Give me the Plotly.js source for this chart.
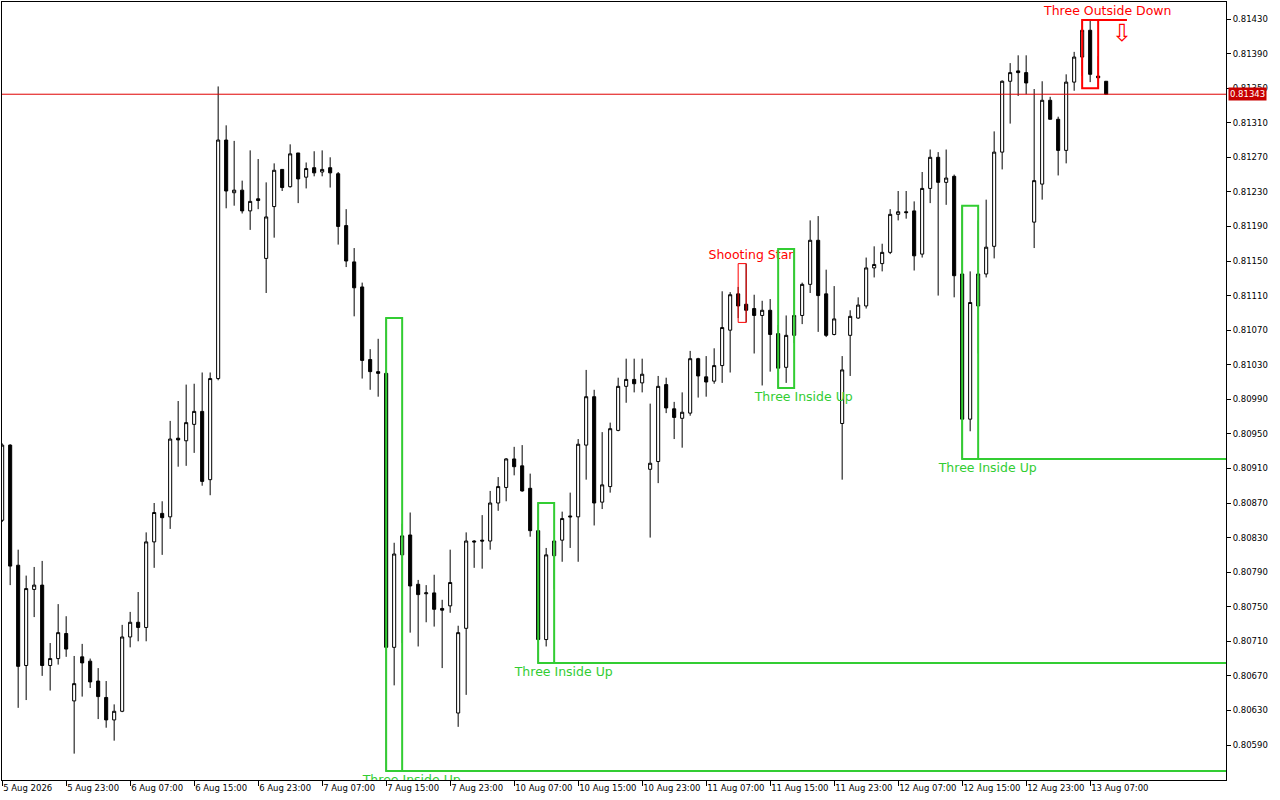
<!DOCTYPE html>
<html><head><meta charset="utf-8">
<script src="https://cdn.plot.ly/plotly-3.0.1.min.js"></script>
<style>html,body{margin:0;padding:0;background:#fff}#chart{width:1280px;height:800px}</style>
</head><body><div id="chart"></div>
<script>
// Hourly candles, 5 Aug 15:00 .. 13 Aug 10:00 (weekend skipped)
const openP = [
0.80850,0.80937,0.80798,0.80682,0.80770,0.80775,0.80682,0.80690,0.80719,0.80641,
0.80692,0.80687,0.80664,0.80645,0.80619,0.80629,0.80715,0.80732,0.80726,0.80825,
0.80858,0.80854,0.80945,0.80942,0.80961,0.80976,0.80897,0.81014,0.81290,0.81229,
0.81232,0.81208,0.81222,0.81153,0.81213,0.81256,0.81236,0.81275,0.81247,0.81258,
0.81253,0.81258,0.81251,0.81191,0.81149,0.81120,0.81036,0.81022,0.81020,0.80703,
0.80810,0.80833,0.80776,0.80765,0.80766,0.80748,0.80751,0.80627,0.80725,0.80826,
0.80827,0.80826,0.80870,0.80888,0.80921,0.80913,0.80887,0.80838,0.80712,0.80809,
0.80827,0.80855,0.80854,0.80937,0.80993,0.80871,0.80889,0.80954,0.81005,0.81013,
0.81009,0.80909,0.80918,0.81007,0.80979,0.80968,0.80974,0.81037,0.81016,0.81011,
0.81029,0.81070,0.81112,0.81100,0.81095,0.81087,0.81093,0.81066,0.81027,0.81064,
0.81087,0.81123,0.81174,0.81112,0.81065,0.80962,0.81064,0.81084,0.81098,0.81142,
0.81147,0.81160,0.81204,0.81207,0.81208,0.81158,0.81234,0.81270,0.81241,0.81248,
0.81135,0.80967,0.81098,0.81135,0.81167,0.81276,0.81358,0.81370,0.81368,0.81195,
0.81239,0.81336,0.81314,0.81278,0.81357,0.81386,0.81417,0.81364,0.81358];
const highP = [
0.80939,0.80938,0.80816,0.80786,0.80796,0.80803,0.80708,0.80753,0.80739,0.80693,
0.80707,0.80690,0.80679,0.80664,0.80637,0.80729,0.80744,0.80767,0.80836,0.80870,
0.80872,0.80965,0.80988,0.81007,0.81008,0.81021,0.81021,0.81352,0.81307,0.81289,
0.81243,0.81278,0.81268,0.81241,0.81263,0.81256,0.81285,0.81275,0.81264,0.81277,
0.81278,0.81270,0.81253,0.81210,0.81165,0.81125,0.81048,0.81060,0.81084,0.80824,
0.80846,0.80859,0.80781,0.80775,0.80787,0.80758,0.80816,0.80728,0.80836,0.80827,
0.80856,0.80884,0.80900,0.80922,0.80935,0.80937,0.80904,0.80870,0.80818,0.80827,
0.80860,0.80882,0.80944,0.81024,0.81001,0.80952,0.80963,0.81015,0.81037,0.81037,
0.81037,0.80985,0.81017,0.81015,0.80987,0.80998,0.81046,0.81038,0.81040,0.81049,
0.81115,0.81114,0.81120,0.81147,0.81111,0.81104,0.81106,0.81076,0.81087,0.81164,
0.81125,0.81197,0.81202,0.81140,0.81121,0.81040,0.81093,0.81108,0.81154,0.81167,
0.81170,0.81210,0.81231,0.81231,0.81219,0.81253,0.81279,0.81276,0.81279,0.81250,
0.81214,0.81138,0.81197,0.81221,0.81300,0.81359,0.81379,0.81388,0.81388,0.81349,
0.81358,0.81340,0.81317,0.81366,0.81392,0.81429,0.81429,0.81387,0.81358];
const lowP = [
0.80848,0.80775,0.80633,0.80642,0.80738,0.80670,0.80653,0.80683,0.80692,0.80580,
0.80646,0.80656,0.80620,0.80610,0.80595,0.80628,0.80703,0.80710,0.80710,0.80795,
0.80810,0.80840,0.80912,0.80913,0.80928,0.80890,0.80879,0.81012,0.81211,0.81214,
0.81205,0.81186,0.81210,0.81113,0.81177,0.81231,0.81235,0.81217,0.81234,0.81248,
0.81248,0.81235,0.81169,0.81143,0.81086,0.81014,0.81001,0.80993,0.80560,0.80659,
0.80708,0.80720,0.80704,0.80732,0.80727,0.80679,0.80743,0.80611,0.80648,0.80795,
0.80794,0.80816,0.80861,0.80872,0.80902,0.80883,0.80831,0.80685,0.80704,0.80770,
0.80802,0.80818,0.80802,0.80897,0.80844,0.80863,0.80882,0.80953,0.80986,0.80998,
0.80998,0.80830,0.80893,0.80974,0.80944,0.80934,0.80971,0.80992,0.80993,0.81008,
0.81009,0.81021,0.81084,0.81079,0.81043,0.81006,0.81022,0.81003,0.81009,0.81055,
0.81077,0.81113,0.81068,0.81062,0.81064,0.80897,0.81017,0.81083,0.81095,0.81131,
0.81138,0.81158,0.81197,0.81199,0.81139,0.81154,0.81217,0.81110,0.81215,0.81108,
0.80921,0.80953,0.81043,0.81131,0.81153,0.81256,0.81309,0.81341,0.81343,0.81165,
0.81221,0.81314,0.81249,0.81263,0.81347,0.81364,0.81357,0.81350,0.81343];
const closeP = [
0.80937,0.80797,0.80681,0.80771,0.80775,0.80682,0.80690,0.80720,0.80701,0.80661,
0.80685,0.80663,0.80646,0.80619,0.80629,0.80715,0.80732,0.80726,0.80825,0.80859,
0.80853,0.80944,0.80943,0.80963,0.80976,0.80895,0.81014,0.81290,0.81231,0.81232,
0.81208,0.81219,0.81220,0.81201,0.81255,0.81235,0.81274,0.81245,0.81257,0.81252,
0.81256,0.81252,0.81190,0.81150,0.81119,0.81035,0.81022,0.81020,0.80703,0.80811,
0.80832,0.80774,0.80764,0.80766,0.80747,0.80746,0.80778,0.80720,0.80826,0.80825,
0.80826,0.80870,0.80889,0.80921,0.80912,0.80884,0.80838,0.80712,0.80810,0.80826,
0.80852,0.80854,0.80938,0.80993,0.80870,0.80891,0.80956,0.81005,0.81013,0.81008,
0.81019,0.80916,0.81005,0.80980,0.80969,0.80975,0.81037,0.81017,0.81010,0.81029,
0.81073,0.81111,0.81098,0.81093,0.81087,0.81093,0.81065,0.81026,0.81064,0.81087,
0.81123,0.81174,0.81110,0.81064,0.81083,0.81024,0.81086,0.81099,0.81142,0.81146,
0.81160,0.81204,0.81207,0.81206,0.81156,0.81234,0.81270,0.81241,0.81246,0.81133,
0.80967,0.81102,0.81135,0.81166,0.81276,0.81358,0.81368,0.81368,0.81356,0.81243,
0.81336,0.81314,0.81278,0.81357,0.81386,0.81417,0.81366,0.81362,0.81343];

// time-axis labels, one every 8 bars
const tickLabels = ['5 Aug 2026','5 Aug 23:00','6 Aug 07:00','6 Aug 15:00','6 Aug 23:00','7 Aug 07:00',
  '7 Aug 15:00','7 Aug 23:00','10 Aug 07:00','10 Aug 15:00','10 Aug 23:00','11 Aug 07:00',
  '11 Aug 15:00','11 Aug 23:00','12 Aug 07:00','12 Aug 15:00','12 Aug 23:00','13 Aug 07:00'];
// price-axis labels
const priceTicks = [0.80590,0.80630,0.80670,0.80710,0.80750,0.80790,0.80830,0.80870,0.80910,0.80950,
  0.80990,0.81030,0.81070,0.81110,0.81150,0.81190,0.81230,0.81270,0.81310,0.81350,0.81390,0.81430];

// detected candlestick patterns
const patName  = ['Three Inside Up','Three Inside Up','Shooting Star','Three Inside Up','Three Inside Up','Three Outside Down'];
const patFirst = [48, 67, 92, 97, 120, 135];
const patLast  = [50, 69, 93, 99, 122, 137];
const patBull  = [true, true, false, true, true, false];
const patLevel = [true, true, false, false, true, true];

const N = closeP.length;
const idx = Array.from({length: N}, (_, i) => i);
const tickIdx = tickLabels.map((_, k) => k * 8);
const xRange = [-0.02, 152.98];
const GREEN = '#32cd32', RED = '#ff0000';

const traces = [{
  type: 'candlestick', x: idx, open: openP, high: highP, low: lowP, close: closeP,
  increasing: {line: {color: '#000', width: 1}, fillcolor: '#ffffff'},
  decreasing: {line: {color: '#000', width: 1}, fillcolor: '#000000'},
  whiskerwidth: 0, hoverinfo: 'skip', showlegend: false
}];

const shapes = [];
const lastPrice = closeP[N - 1];
shapes.push({type: 'line', xref: 'paper', x0: 0, x1: 1, yref: 'y', y0: lastPrice, y1: lastPrice,
  line: {color: '#e00000', width: 1}, layer: 'above'});

for (let p = 0; p < patName.length; p++) {
  const a = patFirst[p], b = patLast[p];
  const hi = Math.max(...highP.slice(a, b + 1));
  const lo = Math.min(...lowP.slice(a, b + 1));
  const col = patBull[p] ? GREEN : RED;
  const w = (b - a >= 2) ? 2 : 1;
  shapes.push({type: 'rect', xref: 'x', yref: 'y', x0: a, x1: b, y0: lo, y1: hi,
    line: {color: col, width: w}, fillcolor: 'rgba(0,0,0,0)', layer: 'above'});
  if (patLevel[p]) {
    const lvl = patBull[p] ? lo : hi;
    const xe = patBull[p] ? xRange[1] + 1 : b + 3.6;
    shapes.push({type: 'line', xref: 'x', yref: 'y', x0: a, x1: xe, y0: lvl, y1: lvl,
      line: {color: col, width: 2}, layer: 'above'});
  }
  traces.push({type: 'scatter', mode: 'markers+text', x: [(a + b) / 2 + 1.1 * (b - a)], y: [patBull[p] ? lo : hi],
    text: [patName[p]], textposition: patBull[p] ? 'bottom center' : 'top center',
    marker: {size: patBull[p] ? 4 : 1, color: 'rgba(0,0,0,0)'},
    textfont: {family: 'DejaVu Sans', size: 12.5, color: col}, cliponaxis: true,
    hoverinfo: 'skip', showlegend: false});
  if (!patBull[p] && patLevel[p]) {
    traces.push({type: 'scatter', mode: 'markers+text', x: [b + 3], y: [hi], text: ['\u21E9'],
      marker: {size: 4, color: 'rgba(0,0,0,0)'},
      textposition: 'bottom center', textfont: {family: 'DejaVu Sans', size: 24, color: RED},
      hoverinfo: 'skip', showlegend: false});
  }
}

const layout = {
  width: 1280, height: 800,
  margin: {l: 2, r: 54, t: 2, b: 20, pad: 0},
  paper_bgcolor: '#ffffff', plot_bgcolor: '#ffffff',
  font: {family: 'DejaVu Sans', size: 8.5, color: '#000'},
  showlegend: false, boxgap: 0.45, hovermode: false,
  xaxis: {type: 'linear', range: xRange, rangeslider: {visible: false},
    tickmode: 'array', tickvals: tickIdx, ticktext: tickLabels, tickangle: 0,
    ticklabelposition: 'outside right', ticks: 'outside', ticklen: 5, tickcolor: '#000',
    showgrid: false, zeroline: false, showline: true, mirror: true, linecolor: '#000', linewidth: 1,
    tickfont: {family: 'DejaVu Sans', size: 8.5, color: '#000'}, fixedrange: true},
  yaxis: {side: 'right', range: [0.805495, 0.814497], tickmode: 'array', tickvals: priceTicks,
    ticktext: priceTicks.map(v => v.toFixed(5)),
    ticks: 'outside', ticklen: 4, tickcolor: '#000', showgrid: false, zeroline: false,
    showline: true, mirror: true, linecolor: '#000', linewidth: 1,
    tickfont: {family: 'DejaVu Sans', size: 8.5, color: '#000'}, fixedrange: true},
  shapes: shapes,
  annotations: [{xref: 'paper', x: 1, xanchor: 'left', xshift: 2, yref: 'y', y: lastPrice, yanchor: 'middle',
    text: lastPrice.toFixed(5), showarrow: false, bgcolor: '#c80000', borderpad: 1,
    font: {family: 'DejaVu Sans', size: 8.5, color: '#ffffff'}}]
};

Plotly.newPlot('chart', traces, layout, {displayModeBar: false, staticPlot: true});
</script>
</body></html>
